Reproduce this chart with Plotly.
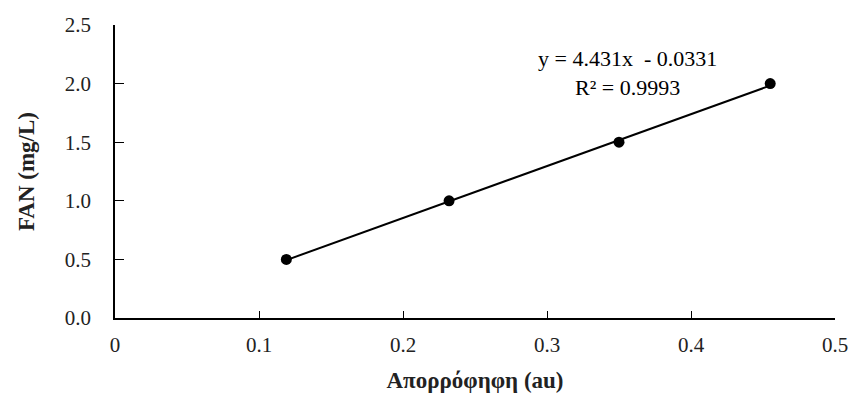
import numpy as np
import plotly.graph_objects as go

absorbance = [0.119, 0.232, 0.350, 0.455]
fan = [0.5, 1.0, 1.5, 2.0]
slope = 4.431
intercept = -0.0331
r2 = 0.9993
x_ticks = [0, 0.1, 0.2, 0.3, 0.4, 0.5]
x_tick_labels = ["0", "0.1", "0.2", "0.3", "0.4", "0.5"]
y_ticks = [0.0, 0.5, 1.0, 1.5, 2.0, 2.5]
y_tick_labels = ["0.0", "0.5", "1.0", "1.5", "2.0", "2.5"]

xl = np.array([min(absorbance), max(absorbance)])
yl = slope * xl + intercept

font = "Liberation Serif, Times New Roman, serif"

fig = go.Figure()
fig.add_trace(go.Scatter(x=xl, y=yl, mode="lines",
                         line=dict(color="black", width=2), showlegend=False, hoverinfo="skip"))
fig.add_trace(go.Scatter(x=absorbance, y=fan, mode="markers",
                         marker=dict(color="black", size=11), showlegend=False))

fig.add_annotation(x=0.356, y=2.09, xref="x", yref="y",
                   text=f"y = {slope}x  - {abs(intercept)}<br>R² = {r2}",
                   showarrow=False, align="center",
                   font=dict(family=font, size=22, color="black"))

axis_common = dict(showline=True, linecolor="black", linewidth=1.5, ticks="inside",
                   tickcolor="black", tickwidth=1.2, showgrid=False, zeroline=False,
                   automargin=False,
                   tickfont=dict(family=font, size=21, color="#222"))

fig.update_xaxes(range=[0, 0.5], tickvals=x_ticks, ticktext=x_tick_labels, ticklen=7,
                 ticklabelstandoff=7,
                 title=dict(text="<b>Απορρόφηφη (au)</b>", font=dict(family=font, size=23, color="#222"),
                            standoff=16),
                 **axis_common)
fig.update_yaxes(range=[0, 2.5], tickvals=y_ticks, ticktext=y_tick_labels, ticklen=9,
                 ticklabelstandoff=18,
                 title=dict(text="<b>FAN (mg/L)</b>", font=dict(family=font, size=23, color="#222"),
                            standoff=24),
                 **axis_common)

fig.update_layout(width=854, height=394, margin=dict(l=115, r=19, t=25, b=76),
                  plot_bgcolor="white", paper_bgcolor="white")

fig.write_html("out.html")
